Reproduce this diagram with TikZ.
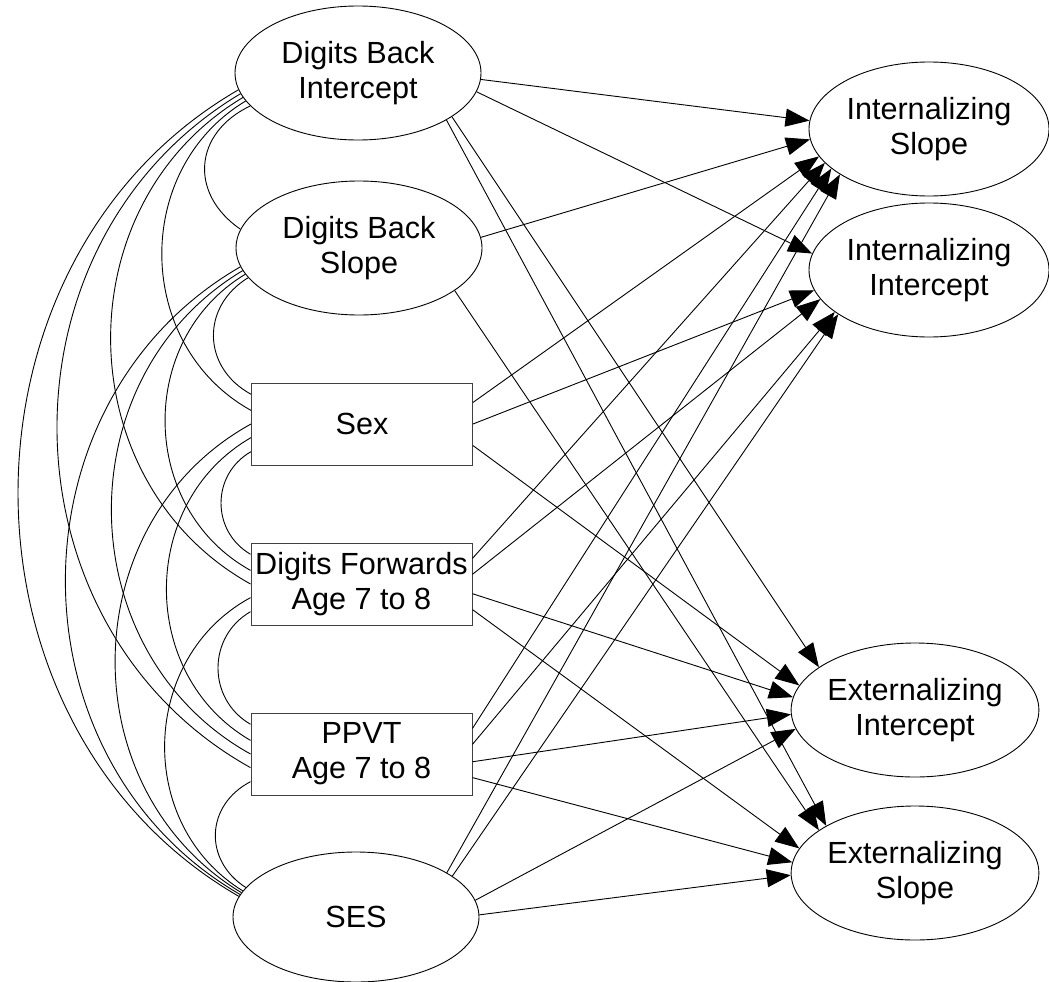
\documentclass[tikz,border=0pt]{standalone}
\usepackage{fontspec}
\setmainfont{Liberation Sans}
\usetikzlibrary{shapes.geometric,arrows.meta}

\begin{document}
\begin{tikzpicture}[x=1pt,y=1pt,
  every node/.style={font=\fontsize{30.6}{35}\selectfont, align=center, inner sep=0pt},
  latent/.style={ellipse, draw, line width=0.9pt, minimum width=246pt, minimum height=134pt},
  obs/.style={rectangle, draw=black!75, line width=1pt, minimum width=221pt, minimum height=82pt},
  path/.style={line width=0.9pt, -{Triangle[length=24pt,width=18pt]}},
  corr/.style={line width=0.9pt, bend right=60, looseness=1.1}]

\useasboundingbox (0,0) rectangle (1049,-982);

% exogenous variables
\node[latent] (dbi) at (358,-73) {Digits Back\\Intercept};
\node[latent] (dbs) at (359,-248) {Digits Back\\Slope};
\node[obs] (sex) at (362,-424) {Sex};
\node[obs] (df) at (361.5,-584) {Digits Forwards\\Age 7 to 8};
\node[obs] (ppvt) at (361.5,-754) {PPVT\\Age 7 to 8};
\node[latent, minimum height=130pt] (ses) at (356,-917) {SES};

% outcomes
\node[latent, minimum width=240pt] (is) at (929,-129) {Internalizing\\Slope};
\node[latent, minimum width=240pt] (ii) at (929,-270) {Internalizing\\Intercept};
\node[latent] (ei) at (915,-710) {Externalizing\\Intercept};
\node[latent, minimum width=244pt] (es) at (915,-873) {Externalizing\\Slope};

% covariances among the predictors
\draw[corr, looseness=1.3] (dbi.197) to (dbs.171);
\draw[corr] (dbi.194) to (sex.173);
\draw[corr] (dbi.192) to (df.180);
\draw[corr] (dbi.190) to (ppvt.187);
\draw[corr, looseness=1.08] (dbi.188) to (ses.170);
\draw[corr, looseness=1.22] (dbs.195) to (sex.165);
\draw[corr] (dbs.193) to (df.173);
\draw[corr] (dbs.191) to (ppvt.180);
\draw[corr] (dbs.189) to (ses.169);
\draw[corr, looseness=1.14] (sex.194) to (df.165);
\draw[corr] (sex.187) to (ppvt.173);
\draw[corr] (sex.180) to (ses.168);
\draw[corr, looseness=1.14] (df.194) to (ppvt.165);
\draw[corr] (df.187) to (ses.167);
\draw[corr, looseness=1.22] (ppvt.194) to (ses.165);

% regression paths
\draw[path] (dbi.357) -- (is.176);
\draw[path] (dbi.351) -- (ii.172);
\draw[path] (dbi.335) -- (ei.156);
\draw[path] (dbi.332) -- (es.152);
\draw[path] (dbs.5) -- (is.185);
\draw[path] (dbs.336) -- (es.156);
\draw[path] (sex.11) -- (is.194);
\draw[path] (sex.0) -- (ii.190);
\draw[path] (sex.349) -- (ei.168);
\draw[path] (df.13) -- (is.198);
\draw[path] (df.5) -- (ii.195);
\draw[path] (df.355) -- (ei.174);
\draw[path] (df.347) -- (es.168);
\draw[path] (ppvt.13) -- (is.202);
\draw[path] (ppvt.5) -- (ii.204);
\draw[path] (ppvt.356) -- (ei.182);
\draw[path] (ppvt.348) -- (es.175);
\draw[path] (ses.26) -- (is.207);
\draw[path] (ses.23) -- (ii.206);
\draw[path] (ses.8) -- (ei.189);
\draw[path] (ses.1) -- (es.181);
\end{tikzpicture}
\end{document}
